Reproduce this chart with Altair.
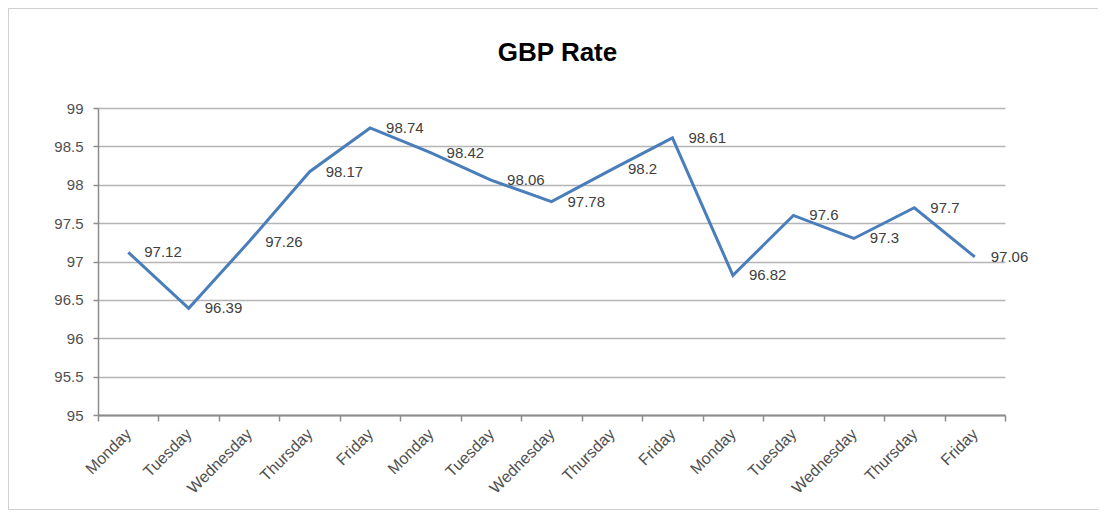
import altair as alt
import pandas as pd

days = ["Monday", "Tuesday", "Wednesday", "Thursday", "Friday",
        "Monday", "Tuesday", "Wednesday", "Thursday", "Friday",
        "Monday", "Tuesday", "Wednesday", "Thursday", "Friday"]
rates = [97.12, 96.39, 97.26, 98.17, 98.74,
         98.42, 98.06, 97.78, 98.2, 98.61,
         96.82, 97.6, 97.3, 97.7, 97.06]
y_ticks = [95, 95.5, 96, 96.5, 97, 97.5, 98, 98.5, 99]
title_text = "GBP Rate"

df = pd.DataFrame({"idx": list(range(len(days))), "day": days, "rate": rates})

FONT = "Liberation Sans"
W, H = 907, 307
PAD_L, PAD_T, PAD_R, PAD_B = 90, 100, 93, 95

label_expr = "[" + ",".join("'" + d + "'" for d in days) + "][datum.value]"

x_scale = alt.Scale(type="band", paddingInner=0, paddingOuter=0)
y_scale = alt.Scale(domain=[95, 99], nice=False, zero=False)

x_axis = alt.Axis(
    title=None, labelExpr=label_expr, labelAngle=315, labelAlign="right",
    labelBaseline="middle", labelFont=FONT, labelFontSize=16,
    labelColor="#505050", labelPadding=10, tickBand="extent", grid=False,
    domainColor="#8c8c8c", domainWidth=2, tickColor="#8c8c8c",
    tickWidth=1.5, tickSize=6, labelOverlap=False,
)
y_axis = alt.Axis(
    title=None, values=y_ticks, format=".1~f", labelFont=FONT,
    labelFontSize=15, labelColor="#505050", labelPadding=10,
    labelOverlap=False,
    domainColor="#8c8c8c", domainWidth=1.5, tickColor="#8c8c8c",
    tickWidth=1.5, tickSize=5, gridColor="#b5b5b5", gridWidth=1.5,
)

x_enc = alt.X("idx:O", bandPosition=0.5, scale=x_scale, axis=x_axis)
y_enc = alt.Y("rate:Q", scale=y_scale, axis=y_axis)

border = alt.Chart(df).mark_rect(
    fill=None, stroke="#d0d0d0", strokeWidth=1
).encode(
    x=alt.value(-PAD_L + 0.5), x2=alt.value(W + PAD_R + 20),
    y=alt.value(-PAD_T + 0.5), y2=alt.value(H + PAD_B - 0.5),
)

title = alt.Chart(pd.DataFrame({"t": [title_text]})).mark_text(
    font=FONT, fontSize=26, fontWeight="bold", color="#000000",
    align="center", baseline="alphabetic",
).encode(
    x=alt.value(W / 2 + 6), y=alt.value(-47), text="t:N"
)

line = alt.Chart(df).mark_line(color="#4a7ebb", strokeWidth=3).encode(
    x=x_enc, y=y_enc
)

labels = alt.Chart(df).mark_text(
    align="left", baseline="middle", dx=16, font=FONT, fontSize=15,
    color="#404040",
).encode(
    x=x_enc,
    y=y_enc,
    text=alt.Text("rate:Q", format=".2~f"),
)

chart = alt.layer(border, title, line, labels).properties(
    width=W, height=H,
    padding={"left": PAD_L, "top": PAD_T, "right": PAD_R, "bottom": PAD_B},
    autosize=alt.AutoSizeParams(type="none"),
).configure_view(strokeWidth=0)

chart.save("out.html", embed_options={"renderer": "svg", "actions": False})
